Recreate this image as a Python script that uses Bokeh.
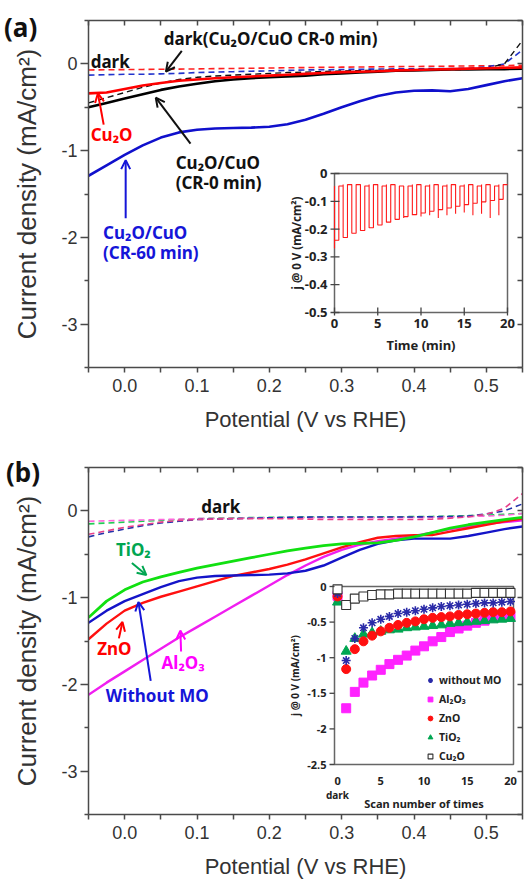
import math
from bokeh.plotting import figure
from bokeh.models import (Range1d, LinearAxis, FixedTicker, PrintfTickFormatter, Arrow,
                          OpenHead, Label, Legend, LegendItem, Div, CustomJSTickFormatter)
from bokeh.layouts import column
from bokeh.embed import file_html
from bokeh.resources import INLINE
from bokeh.core.properties import value

# ---------------- data ----------------
potential = [-0.05, -0.025, 0.0, 0.025, 0.05, 0.075, 0.1, 0.125, 0.15, 0.175, 0.2, 0.225, 0.25,
             0.275, 0.3, 0.325, 0.35, 0.375, 0.4, 0.425, 0.45, 0.475, 0.5, 0.525, 0.55]

# panel (a)
a_cr60 = [-1.29, -1.17, -1.05, -0.94, -0.85, -0.79, -0.76, -0.745, -0.74, -0.735, -0.725, -0.695, -0.645,
          -0.575, -0.50, -0.43, -0.37, -0.33, -0.31, -0.305, -0.315, -0.29, -0.245, -0.20, -0.165]
a_cr0 = [-0.50, -0.45, -0.40, -0.35, -0.30, -0.26, -0.23, -0.20, -0.18, -0.165, -0.155, -0.145, -0.135,
         -0.12, -0.11, -0.10, -0.09, -0.08, -0.075, -0.07, -0.065, -0.065, -0.06, -0.06, -0.055]
a_cu2o = [-0.34, -0.33, -0.29, -0.25, -0.22, -0.195, -0.18, -0.165, -0.155, -0.145, -0.135, -0.125, -0.115,
          -0.105, -0.095, -0.09, -0.085, -0.075, -0.07, -0.065, -0.06, -0.055, -0.05, -0.045, -0.04]
a_cu2o_dark = [-0.07, -0.068, -0.066, -0.064, -0.062, -0.06, -0.058, -0.055, -0.053, -0.05, -0.048, -0.045,
               -0.043, -0.04, -0.038, -0.036, -0.034, -0.032, -0.03, -0.028, -0.026, -0.024, -0.022, -0.02, -0.015]
a_cr60_dark = [-0.13, -0.125, -0.12, -0.12, -0.115, -0.11, -0.10, -0.095, -0.09, -0.085, -0.08, -0.075, -0.07,
               -0.068, -0.065, -0.062, -0.06, -0.058, -0.056, -0.055, -0.054, -0.05, -0.035, 0.0, 0.16]
a_cr0_dark = [-0.45, -0.39, -0.33, -0.27, -0.22, -0.18, -0.155, -0.14, -0.13, -0.12, -0.11, -0.10, -0.095,
              -0.088, -0.082, -0.078, -0.075, -0.072, -0.07, -0.068, -0.066, -0.063, -0.05, 0.0, 0.27]

# panel (b)
b_tio2 = [-1.23, -1.04, -0.91, -0.82, -0.76, -0.71, -0.66, -0.62, -0.58, -0.54, -0.50, -0.46, -0.43,
          -0.40, -0.38, -0.375, -0.37, -0.34, -0.30, -0.25, -0.20, -0.16, -0.13, -0.10, -0.075]
b_none = [-1.29, -1.15, -1.04, -0.96, -0.88, -0.81, -0.77, -0.75, -0.745, -0.74, -0.735, -0.72, -0.69,
          -0.63, -0.54, -0.45, -0.38, -0.34, -0.32, -0.32, -0.32, -0.29, -0.25, -0.21, -0.18]
b_zno = [-1.48, -1.30, -1.15, -1.06, -0.99, -0.93, -0.87, -0.81, -0.75, -0.71, -0.67, -0.62, -0.56,
         -0.49, -0.42, -0.36, -0.31, -0.29, -0.28, -0.28, -0.24, -0.20, -0.16, -0.12, -0.09]
b_al2o3 = [-2.12, -1.98, -1.85, -1.72, -1.59, -1.46, -1.34, -1.22, -1.10, -0.98, -0.86, -0.74, -0.63,
           -0.53, -0.45, -0.39, -0.35, -0.32, -0.29, -0.25, -0.21, -0.18, -0.15, -0.13, -0.11]
b_dark_tio2 = [-0.15, -0.14, -0.13, -0.12, -0.11, -0.10, -0.09, -0.085, -0.08, -0.078, -0.075, -0.073, -0.072,
               -0.07, -0.07, -0.07, -0.07, -0.068, -0.066, -0.064, -0.06, -0.055, -0.05, -0.04, -0.03]
b_dark_al2o3 = [-0.12, -0.115, -0.11, -0.105, -0.10, -0.095, -0.09, -0.088, -0.085, -0.083, -0.08, -0.08, -0.08,
                -0.08, -0.08, -0.08, -0.08, -0.078, -0.076, -0.074, -0.07, -0.065, -0.06, -0.05, -0.03]
b_dark_none = [-0.30, -0.25, -0.21, -0.17, -0.14, -0.12, -0.10, -0.095, -0.09, -0.085, -0.08, -0.075, -0.072,
               -0.07, -0.07, -0.07, -0.07, -0.07, -0.07, -0.068, -0.065, -0.06, -0.035, 0.0, 0.08]
b_dark_zno = [-0.27, -0.23, -0.19, -0.16, -0.13, -0.11, -0.10, -0.095, -0.09, -0.09, -0.09, -0.09, -0.095,
              -0.10, -0.10, -0.10, -0.10, -0.10, -0.10, -0.095, -0.085, -0.07, -0.04, 0.03, 0.20]

x_major = [0.0, 0.1, 0.2, 0.3, 0.4, 0.5]
x_minor = [-0.05, 0.05, 0.15, 0.25, 0.35, 0.45, 0.55]
y_major = [-3, -2, -1, 0]
y_minor = [-3.5, -2.5, -1.5, -0.5, 0.5]

# inset (a): chopped-light photocurrent, one row per 1-min cycle
cycle_start = [0, 1, 2, 3, 4, 5, 6, 7, 8, 9, 10, 11, 12, 13, 14, 15, 16, 17, 18, 19]
light_on = 0.5
cycle_light = [-0.24, -0.23, -0.215, -0.205, -0.195, -0.185, -0.175, -0.165, -0.155, -0.148,
               -0.142, -0.136, -0.13, -0.124, -0.118, -0.112, -0.107, -0.102, -0.097, -0.093]
cycle_dark = [-0.045, -0.04, -0.04, -0.045, -0.04, -0.045, -0.04, -0.045, -0.045, -0.04,
              -0.045, -0.04, -0.045, -0.04, -0.045, -0.04, -0.045, -0.04, -0.045, -0.04]
cycle_spike = [-0.27, -0.23, -0.215, -0.205, -0.195, -0.185, -0.175, -0.165, -0.16, -0.15,
               -0.155, -0.15, -0.16, -0.15, -0.145, -0.14, -0.15, -0.145, -0.16, -0.15]
ia_xticks = [0, 5, 10, 15, 20]
ia_yticks = [0, -0.1, -0.2, -0.3, -0.4, -0.5]
ia_ylabels = ["0", "-0.1", "-0.2", "-0.3", "-0.4", "-0.5"]

# inset (b): j @ 0 V vs scan number
scan = [0, 1, 2, 3, 4, 5, 6, 7, 8, 9, 10, 11, 12, 13, 14, 15, 16, 17, 18, 19, 20]
s_none = [-0.10, -1.04, -0.73, -0.58, -0.51, -0.46, -0.42, -0.38, -0.36, -0.34, -0.32, -0.30, -0.28, -0.27,
          -0.26, -0.25, -0.24, -0.23, -0.23, -0.22, -0.21]
s_al2o3 = [-0.13, -1.71, -1.48, -1.35, -1.25, -1.17, -1.09, -1.03, -0.97, -0.90, -0.84, -0.77, -0.71, -0.64,
           -0.59, -0.55, -0.51, -0.48, -0.44, -0.43, -0.42]
s_zno = [-0.14, -1.16, -0.88, -0.77, -0.69, -0.63, -0.58, -0.54, -0.51, -0.49, -0.46, -0.44, -0.43, -0.42,
         -0.40, -0.39, -0.38, -0.37, -0.36, -0.36, -0.35]
s_tio2 = [-0.22, -0.91, -0.73, -0.67, -0.65, -0.63, -0.61, -0.60, -0.58, -0.57, -0.56, -0.55, -0.54, -0.52,
          -0.51, -0.50, -0.49, -0.48, -0.47, -0.46, -0.45]
s_cu2o = [-0.04, -0.26, -0.17, -0.14, -0.12, -0.11, -0.11, -0.10, -0.10, -0.10, -0.10, -0.10, -0.10, -0.10,
          -0.10, -0.10, -0.09, -0.09, -0.09, -0.09, -0.09]
ib_xticks = [0, 5, 10, 15, 20]
ib_yticks = [0, -0.5, -1, -1.5, -2, -2.5]
ib_ylabels = ["0", "-0.5", "-1", "-1.5", "-2", "-2.5"]

# ---------------- layout constants ----------------
W = 529
FL, FT, FW, FH = 88, 20, 434, 347
FR, FB = FL + FW, FT + FH
AX = "#4a4a4a"
TXT = "#333333"
BF = "Noto Sans"
BLANK = CustomJSTickFormatter(code="return ''")

def main_fig(bottom):
    p = figure(frame_width=FW, frame_height=FH, min_border_left=FL, min_border_right=W - FR,
               min_border_top=FT, min_border_bottom=bottom,
               x_range=Range1d(-0.05, 0.55), y_range=Range1d(-3.5, 0.5),
               output_backend="svg", toolbar_location=None)
    p.grid.visible = False
    p.outline_line_color = None
    xt = FixedTicker(ticks=x_major, minor_ticks=x_minor)
    yt = FixedTicker(ticks=y_major, minor_ticks=y_minor)
    ax, ay = p.xaxis[0], p.yaxis[0]
    ax.ticker, ay.ticker = xt, yt
    ax.formatter = PrintfTickFormatter(format="%.1f")
    ay.formatter = PrintfTickFormatter(format="%d")
    for a in (ax, ay):
        a.axis_line_color = AX
        a.axis_line_width = 1.5
        a.major_tick_line_color = AX
        a.minor_tick_line_color = AX
        a.major_tick_line_width = 1.5
        a.minor_tick_line_width = 1.5
        a.major_label_text_font = "Liberation Sans"
        a.major_label_text_font_size = "18px"
        a.major_label_text_color = TXT
        a.axis_label_text_font = "Liberation Sans"
        a.axis_label_text_font_style = "normal"
        a.axis_label_text_color = TXT
    ax.axis_label = "Potential (V vs RHE)"
    ax.axis_label_text_font_size = "22px"
    ax.axis_label_standoff = 12
    ax.major_tick_out, ax.major_tick_in = 5, 0
    ax.minor_tick_out, ax.minor_tick_in = 5, 0
    ax.major_label_standoff = 6
    ay.axis_label = "Current density (mA/cm²)"
    ay.axis_label_text_font_size = "26px"
    ay.axis_label_standoff = 16
    ay.major_tick_out, ay.major_tick_in = 8, 0
    ay.minor_tick_out, ay.minor_tick_in = 4, 0
    ay.major_label_standoff = 3
    for tick, side in ((xt, "above"), (yt, "right")):
        o = LinearAxis(ticker=tick, formatter=BLANK, major_label_text_font_size="1px",
                       major_label_standoff=0,
                       major_tick_in=5, major_tick_out=0, minor_tick_in=5, minor_tick_out=0,
                       axis_line_color=AX, axis_line_width=1.5, major_tick_line_color=AX,
                       minor_tick_line_color=AX, major_tick_line_width=1.5, minor_tick_line_width=1.5)
        p.add_layout(o, side)
    return p


def add_inset(p, name, box, xlim, ylim):
    L, R, T, B = box
    sx = (xlim[1] - xlim[0]) / (R - L)
    sy = (ylim[1] - ylim[0]) / (B - T)
    xr = Range1d(xlim[0] - (L - FL) * sx, xlim[1] + (FR - R) * sx)
    yr = Range1d(ylim[0] - (FB - B) * sy, ylim[1] + (T - FT) * sy)
    p.extra_x_ranges = {**p.extra_x_ranges, name: xr}
    p.extra_y_ranges = {**p.extra_y_ranges, name: yr}
    kw = dict(x_range_name=name, y_range_name=name)
    p.quad(left=[xlim[0]], right=[xlim[1]], bottom=[ylim[0]], top=[ylim[1]],
           fill_color="white", line_color="#666666", line_width=1.5, **kw)
    return sx, sy, kw


def text(p, x, y, t, color, size="17px", align="left", baseline="middle", style="bold", font=BF):
    p.add_layout(Label(x=x, y=y, text=t, text_color=color, text_font=font, text_font_style=style,
                       text_font_size=size, text_align=align, text_baseline=baseline))


def arrow(p, x0, y0, x1, y1, color):
    p.add_layout(Arrow(end=OpenHead(size=9, line_color=color, line_width=2),
                       x_start=x0, y_start=y0, x_end=x1, y_end=y1,
                       line_color=color, line_width=2))


def panel_tag(t, left, top):
    return Div(text=t, width=40, height=30,
               styles={"position": "absolute", "left": f"{left}px", "top": f"{top}px",
                       "font-family": "Noto Sans", "font-weight": "bold", "font-size": "26px",
                       "color": "#111111", "line-height": "30px", "margin": "0"})


# ---------------- panel (a) ----------------
pa = main_fig(447 - FB)
DASH = "6 4"
pa.line(potential, a_cu2o_dark, line_color="#ff2020", line_width=1.6, line_dash=DASH)
pa.line(potential, a_cr60_dark, line_color="#2233cc", line_width=1.6, line_dash=DASH)
pa.line(potential, a_cr0_dark, line_color="#111111", line_width=1.4, line_dash=DASH)
pa.line(potential, a_cr0, line_color="#000000", line_width=2.6)
pa.line(potential, a_cu2o, line_color="#ff0000", line_width=2.6)
pa.line(potential, a_cr60, line_color="#1010cc", line_width=2.6)

text(pa, -0.047, 0.03, "dark", "#111111")
text(pa, 0.054, 0.29, "dark(Cu₂O/CuO CR-0 min)", "#111111")
arrow(pa, 0.079, 0.15, 0.057, -0.09, "#111111")
text(pa, -0.047, -0.81, "Cu₂O", "#ff0000")
arrow(pa, -0.029, -0.70, -0.037, -0.34, "#ff0000")
text(pa, 0.0705, -1.14, "Cu₂O/CuO", "#111111")
text(pa, 0.0705, -1.37, "(CR-0 min)", "#111111")
arrow(pa, 0.091, -0.92, 0.043, -0.39, "#111111")
text(pa, -0.030, -1.94, "Cu₂O/CuO", "#1515d8")
text(pa, -0.030, -2.18, "(CR-60 min)", "#1515d8")
arrow(pa, 0.0014, -1.78, 0.0014, -1.11, "#1515d8")

# inset (a)
sx, sy, kw = add_inset(pa, "ia", (334, 507, 173, 312), (0, 20), (-0.5, 0))
t_wave, j_wave = [], []
for t0, jl, jd, js in zip(cycle_start, cycle_light, cycle_dark, cycle_spike):
    t_wave += [t0, t0, t0, t0 + light_on, t0 + light_on, t0 + 2 * light_on]
    j_wave += [jd, js, jl, jl, jd, jd]
pa.line(t_wave, j_wave, line_color="#ff1a1a", line_width=1.1, **kw)
pa.segment(x0=ia_xticks, x1=ia_xticks, y0=[-0.5 - 3 * sy] * 5, y1=[-0.5 + 5 * sy] * 5,
           line_color="#444444", line_width=1.3, **kw)
pa.segment(x0=[0 - 4 * sx] * 6, x1=[0 + 5 * sx] * 6, y0=ia_yticks, y1=ia_yticks,
           line_color="#444444", line_width=1.3, **kw)
pa.text(x=[0] * 6, y=ia_yticks, text=ia_ylabels, x_offset=-7, text_align="right",
        text_baseline="middle", text_font=value(BF), text_font_style="bold",
        text_font_size="13px", text_color="#222222", **kw)
pa.text(x=ia_xticks, y=[-0.5] * 5, text=[str(v) for v in ia_xticks], y_offset=6,
        text_align="center", text_baseline="top", text_font=value(BF), text_font_style="bold",
        text_font_size="13px", text_color="#222222", **kw)
pa.text(x=[10], y=[-0.5], text=["Time (min)"], y_offset=23, text_align="center",
        text_baseline="top", text_font=value(BF), text_font_style="bold",
        text_font_size="13px", text_color="#222222", **kw)
pa.text(x=[0], y=[-0.25], text=["j @ 0 V (mA/cm²)"], x_offset=-38, angle=math.pi / 2,
        text_align="center", text_baseline="middle", text_font=value(BF), text_font_style="bold",
        text_font_size="11.5px", text_color="#222222", **kw)

# ---------------- panel (b) ----------------
pb = main_fig(436 - FB)
pb.line(potential, b_dark_tio2, line_color="#22cc55", line_width=1.6, line_dash=DASH)
pb.line(potential, b_dark_al2o3, line_color="#ff66dd", line_width=1.6, line_dash=DASH)
pb.line(potential, b_dark_none, line_color="#2233aa", line_width=1.6, line_dash=DASH)
pb.line(potential, b_dark_zno, line_color="#e8408a", line_width=1.6, line_dash=DASH)
pb.line(potential, b_al2o3, line_color="#f01ef0", line_width=2.4)
pb.line(potential, b_zno, line_color="#ff1010", line_width=2.4)
pb.line(potential, b_none, line_color="#1414c8", line_width=2.4)
pb.line(potential, b_tio2, line_color="#11e011", line_width=2.8)

text(pb, 0.133, 0.05, "dark", "#111111", align="center")
text(pb, -0.012, -0.45, "TiO₂", "#00a651")
arrow(pb, 0.010, -0.60, 0.030, -0.74, "#00a651")
text(pb, -0.038, -1.59, "ZnO", "#ff0000")
arrow(pb, -0.008, -1.47, -0.003, -1.28, "#ff0000")
text(pb, 0.051, -1.75, "Al₂O₃", "#ff00ff")
arrow(pb, 0.078, -1.62, 0.077, -1.38, "#ff00ff")
text(pb, -0.026, -2.13, "Without MO", "#1515d8")
arrow(pb, 0.036, -1.96, 0.019, -1.05, "#1515d8")

# inset (b)
sx, sy, kw = add_inset(pb, "ib", (334, 513, 139, 317), (-0.35, 20.35), (-2.5, 0))
r_al = pb.scatter(scan, s_al2o3, marker="square", size=9, fill_color="#ff22ff", line_color="#ff22ff", **kw)
r_ti = pb.scatter(scan, s_tio2, marker="triangle", size=10, fill_color="#00a651", line_color="#00a651", **kw)
r_zn = pb.scatter(scan, s_zno, marker="circle", size=9, fill_color="#ff1010", line_color="#ff1010", **kw)
r_no = pb.scatter(scan, s_none, marker="asterisk", size=9, line_color="#2a2aa8", line_width=1.6, **kw)
r_cu = pb.scatter(scan, s_cu2o, marker="square", size=9, fill_color="white", line_color="#333333",
                  line_width=1.1, **kw)
pb.segment(x0=[-0.35 - 5 * sx] * 6, x1=[-0.35] * 6, y0=ib_yticks, y1=ib_yticks,
           line_color="#444444", line_width=1.3, **kw)
pb.text(x=[-0.35] * 6, y=ib_yticks, text=ib_ylabels, x_offset=-8, text_align="right",
        text_baseline="middle", text_font=value(BF), text_font_style="bold",
        text_font_size="11px", text_color="#222222", **kw)
pb.text(x=ib_xticks, y=[-2.5] * 5, text=[str(v) for v in ib_xticks], y_offset=12,
        text_align="center", text_baseline="top", text_font=value(BF), text_font_style="bold",
        text_font_size="11px", text_color="#222222", **kw)
pb.text(x=[0], y=[-2.5], text=["dark"], y_offset=23, text_align="center", text_baseline="top",
        text_font=value(BF), text_font_style="bold", text_font_size="10px", text_color="#222222", **kw)
pb.text(x=[10], y=[-2.5], text=["Scan number of times"], y_offset=31, text_align="center",
        text_baseline="top", text_font=value(BF), text_font_style="bold",
        text_font_size="11px", text_color="#222222", **kw)
pb.text(x=[-0.35], y=[-1.25], text=["j @ 0 V (mA/cm²)"], x_offset=-40, angle=math.pi / 2,
        text_align="center", text_baseline="middle", text_font=value(BF), text_font_style="bold",
        text_font_size="10px", text_color="#222222", **kw)

legend = Legend(items=[LegendItem(label="without MO", renderers=[r_no]),
                       LegendItem(label="Al₂O₃", renderers=[r_al]),
                       LegendItem(label="ZnO", renderers=[r_zn]),
                       LegendItem(label="TiO₂", renderers=[r_ti]),
                       LegendItem(label="Cu₂O", renderers=[r_cu])],
                location=(336, 51), background_fill_alpha=0, border_line_alpha=0,
                label_text_font=BF, label_text_font_style="bold", label_text_font_size="10.5px",
                label_text_color="#222222", glyph_width=12, glyph_height=12, label_height=12,
                spacing=5, padding=0, margin=0, label_standoff=3)
pb.add_layout(legend)

layout = column(pa, pb, panel_tag("(a)", 4, 12), panel_tag("(b)", 6, 457))
open("out.html", "w").write(file_html(layout, INLINE))
